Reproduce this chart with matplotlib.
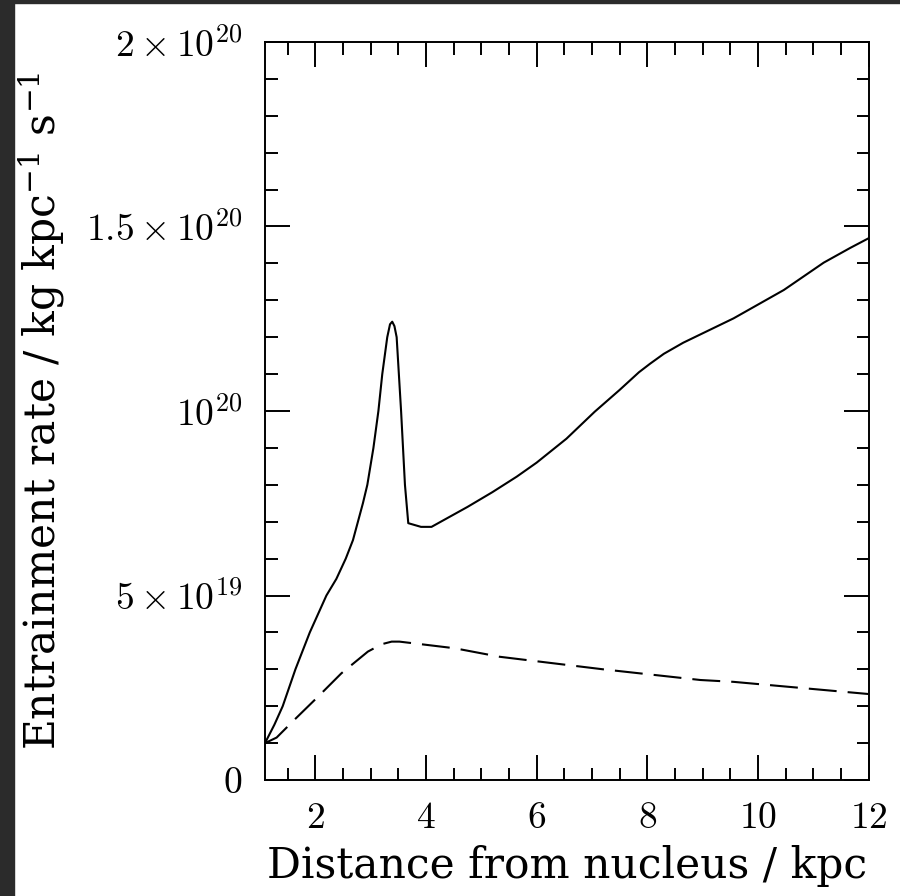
import matplotlib
matplotlib.use("Agg")
import matplotlib.pyplot as plt
from matplotlib.patches import Rectangle
from matplotlib.ticker import MultipleLocator

# Data (x in kpc, y in units of 1e19 kg/kpc/s)
solid_x = [1.09, 1.26, 1.41, 1.64, 1.90, 2.20, 2.38, 2.55, 2.68, 2.77, 2.86,
           2.94, 3.05, 3.14, 3.21, 3.30, 3.35, 3.39, 3.43, 3.47, 3.55, 3.62,
           3.68, 3.91, 4.10, 4.75, 5.2, 5.64, 6.0, 6.54, 7.05, 7.5, 7.85,
           8.05, 8.3, 8.65, 9.56, 10.47, 11.19, 11.67, 12.0]
solid_y = [1.0, 1.5, 2.0, 3.0, 4.0, 5.0, 5.45, 6.0, 6.5, 7.0, 7.5,
           8.0, 9.0, 10.0, 11.0, 12.0, 12.35, 12.42, 12.3, 12.0, 10.0, 8.0,
           6.96, 6.86, 6.86, 7.4, 7.8, 8.22, 8.6, 9.25, 9.98, 10.57, 11.05,
           11.28, 11.55, 11.85, 12.51, 13.28, 14.02, 14.42, 14.68]

dashed_x = [1.09, 1.3, 1.62, 2.05, 2.47, 2.95, 3.2, 3.38, 3.52, 3.80, 4.52,
            5.33, 7.2, 8.96, 9.56, 12.0]
dashed_y = [1.0, 1.15, 1.63, 2.26, 2.89, 3.48, 3.68, 3.75, 3.75, 3.70, 3.57,
            3.34, 3.0, 2.71, 2.66, 2.33]

ytick_vals = [0, 5e19, 1e20, 1.5e20, 2e20]
ytick_labels = [r"$0$", r"$5\times10^{19}$", r"$10^{20}$",
                r"$1.5\times10^{20}$", r"$2\times10^{20}$"]

plt.rcParams["font.family"] = "serif"
plt.rcParams["font.serif"] = ["cmr10", "DejaVu Serif"]
plt.rcParams["mathtext.fontset"] = "cm"
plt.rcParams["axes.formatter.use_mathtext"] = True

fig = plt.figure(figsize=(9, 8.96), dpi=100)
ax = fig.add_axes([265 / 900, 116 / 896, 603.5 / 900, 738 / 896])

# dark screenshot border on the left and top
fig.patches.append(Rectangle((0, 0), 13.5 / 900, 1, transform=fig.transFigure,
                             color="#2b2b2b", zorder=-1))
fig.patches.append(Rectangle((0, 1 - 3.5 / 896), 1, 3.5 / 896,
                             transform=fig.transFigure, color="#2b2b2b", zorder=-1))

ax.plot(solid_x, [v * 1e19 for v in solid_y], color="black", lw=1.5,
        solid_joinstyle="round")
ax.plot(dashed_x, [v * 1e19 for v in dashed_y], color="black", lw=1.5,
        dashes=(13.4, 5.3))

ax.set_xlim(1.09, 12)
ax.set_ylim(0, 2e20)
ax.xaxis.set_major_locator(MultipleLocator(2))
ax.xaxis.set_minor_locator(MultipleLocator(0.5))
ax.set_yticks(ytick_vals)
ax.set_yticklabels(ytick_labels)
ax.yaxis.set_minor_locator(MultipleLocator(1e19))

ax.tick_params(which="both", direction="in", top=True, right=True,
               width=1.4, labelsize=27, colors="black")
ax.tick_params(which="major", length=18, pad=16)
ax.tick_params(which="minor", length=9)
for s in ax.spines.values():
    s.set_linewidth(1.4)

label_font = dict(family="DejaVu Serif", fontsize=30.5, math_fontfamily="dejavuserif")
ax.set_xlabel("Distance from nucleus / kpc", labelpad=7, **label_font)
ax.set_ylabel(r"Entrainment rate / kg kpc$^{-1}$ s$^{-1}$", labelpad=14,
              **label_font)

fig.savefig("out.png", dpi=100)
